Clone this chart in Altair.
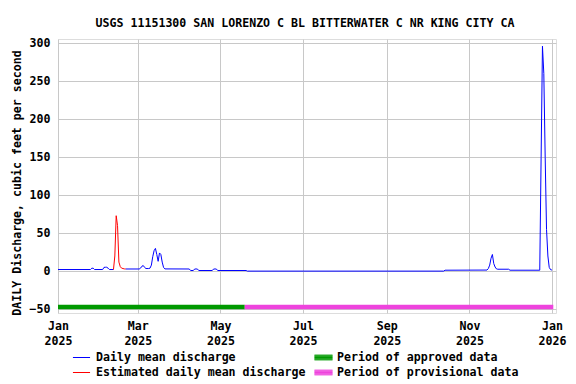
import altair as alt
import pandas as pd

TITLE = "USGS 11151300 SAN LORENZO C BL BITTERWATER C NR KING CITY CA"
Y_TITLE = "DAILY Discharge, cubic feet per second"
DAILY = "Daily mean discharge"
EST = "Estimated daily mean discharge"
APPROVED = "Period of approved data"
PROVISIONAL = "Period of provisional data"

# Daily mean discharge, first part (Jan 1 - Feb 11)
blue1_dates = ["2025-01-01", "2025-01-25", "2025-01-26", "2025-01-27", "2025-01-28",
               "2025-02-03", "2025-02-04", "2025-02-05", "2025-02-06", "2025-02-07",
               "2025-02-08", "2025-02-11"]
blue1_vals = [2.2, 2.2, 3.9, 3.9, 2.2, 2.2, 5.0, 5.2, 5.2, 4.0, 2.2, 2.2]

# Estimated daily mean discharge (Feb 11 - Feb 20)
red_dates = ["2025-02-11", "2025-02-12", "2025-02-13", "2025-02-14", "2025-02-15",
             "2025-02-16", "2025-02-17", "2025-02-18", "2025-02-19", "2025-02-20"]
red_vals = [2.2, 20, 73, 60, 12, 6, 4, 3.5, 3.0, 2.9]

# Daily mean discharge, second part (Feb 20 - Jan 1 2026)
blue2_dates = ["2025-02-20", "2025-03-02", "2025-03-03", "2025-03-04", "2025-03-05",
               "2025-03-06", "2025-03-07", "2025-03-09", "2025-03-10", "2025-03-11",
               "2025-03-12", "2025-03-13", "2025-03-14", "2025-03-15", "2025-03-16",
               "2025-03-17", "2025-03-18", "2025-03-19", "2025-03-20", "2025-03-21",
               "2025-04-08", "2025-04-09", "2025-04-11", "2025-04-12", "2025-04-14",
               "2025-04-15", "2025-04-25", "2025-04-26", "2025-04-28", "2025-04-29",
               "2025-05-20", "2025-05-21", "2025-10-13", "2025-10-14", "2025-11-14",
               "2025-11-15", "2025-11-16", "2025-11-17", "2025-11-18", "2025-11-19",
               "2025-11-20", "2025-11-21", "2025-11-22", "2025-11-30", "2025-12-01",
               "2025-12-23", "2025-12-24", "2025-12-25", "2025-12-26", "2025-12-27",
               "2025-12-28", "2025-12-29", "2025-12-30", "2025-12-31", "2026-01-01"]
blue2_vals = [2.9, 2.9, 4.0, 6.5, 7.4,
              5.0, 3.5, 3.5, 4.0, 8.0,
              19, 27, 30, 22, 13,
              24, 22, 12, 5.0, 3.0,
              2.9, 0.9, 0.9, 2.9, 2.9,
              0.9, 0.9, 2.9, 2.9, 0.9,
              0.9, 0.1, 0.1, 1.3, 1.5,
              3.5, 8.0, 17, 22, 10,
              5.5, 3.0, 2.6, 2.6, 1.3,
              1.3, 150, 296, 260, 150,
              55, 20, 5.0, 2.0, 1.5]

period_names = [APPROVED, PROVISIONAL]
period_start = ["2025-01-01", "2025-05-19"]
period_end = ["2025-05-19", "2026-01-02"]

y_ticks = [-50, 0, 50, 100, 150, 200, 250, 300]
x_tick_months = [(2025, 1), (2025, 3), (2025, 5), (2025, 7), (2025, 9), (2025, 11), (2026, 1)]

rows = []
for d, v in zip(blue1_dates, blue1_vals):
    rows.append({"date": d, "value": v, "series": DAILY, "seg": "b1"})
for d, v in zip(red_dates, red_vals):
    rows.append({"date": d, "value": v, "series": EST, "seg": "r"})
for d, v in zip(blue2_dates, blue2_vals):
    rows.append({"date": d, "value": v, "series": DAILY, "seg": "b2"})
flow = pd.DataFrame(rows)
periods = pd.DataFrame({"period": period_names, "start": period_start, "end": period_end})

FONT = "DejaVu Sans Mono"
FS = 11.6

x_scale = alt.Scale(type="utc",
                    domain=[alt.DateTime(year=2025, month=1, date=1, utc=True),
                            alt.DateTime(year=2026, month=1, date=4, utc=True)])
y_scale = alt.Scale(domain=[-55, 305.5], nice=False, zero=False)

x_axis = alt.Axis(
    values=[alt.DateTime(year=y, month=m, date=1, utc=True) for y, m in x_tick_months],
    labelExpr="[utcFormat(datum.value, '%b'), utcFormat(datum.value, '%Y')]",
    title=None, grid=True, gridColor="#c8c8c8", ticks=False, domain=False,
    labelPadding=7, labelLineHeight=15, labelFont=FONT, labelFontSize=FS,
    labelFontWeight="bold", labelColor="black", labelAngle=0, labelOverlap=False,
    labelFlush=False, labelBound=False)
y_axis = alt.Axis(
    values=y_ticks, title=Y_TITLE, grid=True, gridColor="#c8c8c8", ticks=False,
    domain=False, labelPadding=8, labelFont=FONT, labelFontSize=FS,
    labelFontWeight="bold", labelColor="black", labelOverlap=False,
    labelFlush=False, labelBound=False,
    titleFont=FONT, titleFontSize=FS, titleFontWeight="bold", titleColor="black",
    titleX=-36, titleY=143.5, titleAngle=270, titleBaseline="bottom", titleAlign="center")

legend_common = dict(title=None, orient="none", direction="vertical",
                     symbolSize=256, symbolStrokeWidth=1, labelFont=FONT, labelFontSize=FS,
                     labelFontWeight="bold", labelColor="black", labelLimit=0, padding=0,
                     rowPadding=0)

# thin line symbol, and a thick bar symbol built from stacked strokes
LINE_SYMBOL = "M-1.07,0H1.07"
BAR_SYMBOL = ("M-1.13,-0.3H1.13M-1.13,-0.2H1.13M-1.13,-0.1H1.13M-1.13,0H1.13"
              "M-1.13,0.1H1.13M-1.13,0.2H1.13M-1.13,0.3H1.13")

lines = alt.Chart(flow).mark_line(strokeWidth=1, clip=True).encode(
    x=alt.X("date:T", scale=x_scale, axis=x_axis),
    y=alt.Y("value:Q", scale=y_scale, axis=y_axis),
    color=alt.Color("series:N",
                    scale=alt.Scale(domain=[DAILY, EST], range=["#0000ff", "#ff0000"]),
                    legend=alt.Legend(legendX=15, legendY=310, symbolType=LINE_SYMBOL,
                                      labelOffset=6, **legend_common)),
    detail="seg:N",
    order="date:T",
)

bars = alt.Chart(periods).mark_rule(strokeWidth=4.5).encode(
    x=alt.X("start:T", scale=x_scale, axis=x_axis),
    x2="end:T",
    y=alt.YDatum(-47, axis=y_axis),
    stroke=alt.Stroke("period:N",
                      scale=alt.Scale(domain=[APPROVED, PROVISIONAL],
                                      range=["#009900", "#ee44dd"]),
                      legend=alt.Legend(legendX=257, legendY=310, symbolType=BAR_SYMBOL,
                                        labelOffset=5, **legend_common)),
)

chart = alt.layer(bars, lines).properties(
    width=498, height=274,
    title=alt.TitleParams(TITLE, font=FONT, fontSize=FS, fontWeight="bold", color="black",
                          anchor="middle", frame="group", offset=14, dy=15, dx=-2,
                          baseline="alphabetic"),
    padding={"left": 50, "top": 31, "right": 11, "bottom": 68},
    autosize=alt.AutoSizeParams(type="none"),
).configure_view(stroke="black", strokeWidth=1).configure(background="white")

chart.save("out.html", embed_options={"renderer": "svg", "actions": False})
